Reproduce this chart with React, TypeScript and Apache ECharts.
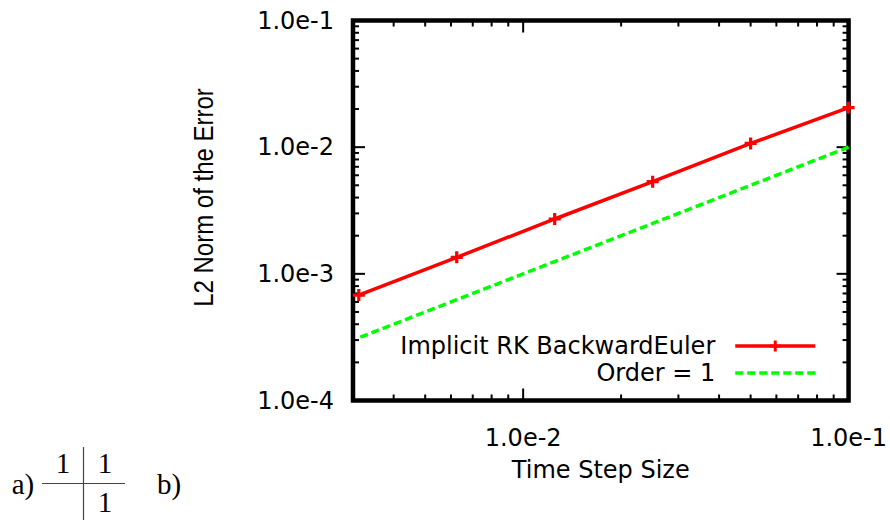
import React, { useEffect, useRef } from "react";
import * as echarts from "echarts";

// ---- data ----
const stepSizes = [0.1, 0.05, 0.025, 0.0125, 0.00625, 0.003125];
const errorBackwardEuler = [0.0205, 0.0107, 0.00534, 0.00271, 0.00135, 0.00068];
const orderOneRef = [0.01, 0.005, 0.0025, 0.00125, 0.000625, 0.0003125];

const seriesNames = ["Implicit RK BackwardEuler", "Order = 1"];
const xAxisTitle = "Time Step Size";
const yAxisTitle = "L2 Norm of the Error";

const X_MIN = 0.003;
const X_MAX = 0.1;
const Y_MIN = 1e-4;
const Y_MAX = 1e-1;

const xMajorTicks = [0.01, 0.1];
const xMinorTicks = [0.004, 0.005, 0.006, 0.007, 0.008, 0.009, 0.02, 0.03, 0.04, 0.05, 0.06, 0.07, 0.08, 0.09];
const yMajorTicks = [1e-4, 1e-3, 1e-2, 1e-1];
const yMinorTicks = [
  2e-4, 3e-4, 4e-4, 5e-4, 6e-4, 7e-4, 8e-4, 9e-4,
  2e-3, 3e-3, 4e-3, 5e-3, 6e-3, 7e-3, 8e-3, 9e-3,
  2e-2, 3e-2, 4e-2, 5e-2, 6e-2, 7e-2, 8e-2, 9e-2,
];

const SANS = "'DejaVu Sans'";
const SERIF = "'Liberation Serif'";
const PLUS = "path://M-1.6,-6 L1.6,-6 L1.6,-1.6 L6,-1.6 L6,1.6 L1.6,1.6 L1.6,6 L-1.6,6 L-1.6,1.6 L-6,1.6 L-6,-1.6 L-1.6,-1.6 Z";

const MAJOR_LEN = 12;
const MINOR_LEN = 6;

export default function App() {
  const ref = useRef<HTMLDivElement>(null);

  useEffect(() => {
    if (!ref.current) return;
    const chart = echarts.init(ref.current, null, { renderer: "svg" });

    const xTickData = [
      ...xMajorTicks.map((v) => [v, Y_MIN, MAJOR_LEN]),
      ...xMinorTicks.map((v) => [v, Y_MIN, MINOR_LEN]),
    ];
    const yTickData = [
      ...yMajorTicks.map((v) => [X_MIN, v, MAJOR_LEN]),
      ...yMinorTicks.map((v) => [X_MIN, v, MINOR_LEN]),
    ];
    const tickStyle = { stroke: "#000", lineWidth: 2 };

    const fmt = (v: number) => Number(v).toExponential(1);
    const serifText = (text: string, x: number, y: number) => ({
      type: "text",
      x,
      y,
      style: {
        text,
        fontFamily: SERIF,
        fontSize: 29,
        fill: "#000",
        align: "center",
        verticalAlign: "middle",
        textAlign: "center",
        textVerticalAlign: "middle",
      },
    });

    chart.setOption({
      animation: false,
      backgroundColor: "#fff",
      grid: {
        left: 353,
        top: 20.5,
        right: 40,
        bottom: 121.5,
        show: false,
      },
      xAxis: {
        type: "log",
        logBase: 10,
        min: X_MIN,
        max: X_MAX,
        name: xAxisTitle,
        nameLocation: "middle",
        nameGap: 57,
        nameTextStyle: { fontFamily: SANS, fontSize: 24, color: "#000" },
        axisLine: { show: false },
        axisTick: { show: false },
        splitLine: { show: false },
        minorTick: { show: false },
        axisLabel: {
          showMinLabel: false,
          margin: 25,
          fontFamily: SANS,
          fontSize: 24,
          color: "#000",
          formatter: fmt,
        },
      },
      yAxis: {
        type: "log",
        logBase: 10,
        min: Y_MIN,
        max: Y_MAX,
        axisLine: { show: false },
        axisTick: { show: false },
        splitLine: { show: false },
        axisLabel: {
          margin: 19,
          fontFamily: SANS,
          fontSize: 24,
          color: "#000",
          formatter: fmt,
        },
      },
      legend: {
        data: [
          { name: seriesNames[0] },
          { name: seriesNames[1], itemStyle: { opacity: 0 } },
        ],
        orient: "vertical",
        align: "right",
        right: 73,
        top: 334,
        padding: 0,
        itemWidth: 80,
        itemHeight: 14,
        itemGap: 3,
        selectedMode: false,
        lineStyle: { width: 3.5 },
        textStyle: {
          fontFamily: SANS,
          fontSize: 24,
          color: "#000",
          padding: [0, 15, 0, 0],
        },
      },
      graphic: [
        {
          type: "text",
          x: 203,
          y: 197.5,
          rotation: Math.PI / 2,
          scaleY: 1.14,
          style: {
            text: yAxisTitle,
            fontFamily: "'Liberation Sans'",
            fontSize: 24,
            fill: "#000",
            align: "center",
            verticalAlign: "middle",
            textAlign: "center",
            textVerticalAlign: "middle",
          },
        },
        // Butcher tableau: a) 1 | 1 / | 1  b)
        serifText("a)", 23, 483.5),
        serifText("1", 63, 463),
        serifText("1", 105, 463),
        serifText("1", 105, 501.5),
        serifText("b)", 169, 483.5),
        { type: "line", shape: { x1: 83.5, y1: 447, x2: 83.5, y2: 520 }, style: { stroke: "#444", lineWidth: 1.2 } },
        { type: "line", shape: { x1: 42, y1: 483.5, x2: 125, y2: 483.5 }, style: { stroke: "#444", lineWidth: 1.2 } },
      ],
      series: [
        {
          type: "custom",
          silent: true,
          z: 1,
          encode: { x: 0, y: 1 },
          data: [[X_MIN, Y_MIN]],
          renderItem: (_p: any, api: any) => {
            const a = api.coord([X_MIN, Y_MIN]);
            const b = api.coord([X_MAX, Y_MAX]);
            return {
              type: "rect",
              shape: { x: a[0], y: b[1], width: b[0] - a[0], height: a[1] - b[1] },
              style: { fill: "none", stroke: "#000", lineWidth: 4.5 },
            };
          },
        },
        {
          name: seriesNames[0],
          type: "line",
          data: stepSizes.map((x, i) => [x, errorBackwardEuler[i]]),
          symbol: PLUS,
          symbolSize: 12,
          showSymbol: true,
          lineStyle: { color: "#ff0000", width: 3.5 },
          itemStyle: { color: "#ff0000" },
          z: 3,
        },
        {
          name: seriesNames[1],
          type: "line",
          data: stepSizes.map((x, i) => [x, orderOneRef[i]]),
          symbol: "none",
          lineStyle: { color: "#00ff00", width: 3.5, type: [8, 4] },
          itemStyle: { color: "rgba(0,0,0,0)" },
          z: 3,
        },
        {
          type: "custom",
          silent: true,
          z: 2,
          encode: { x: 0, y: 1 },
          data: xTickData,
          renderItem: (_p: any, api: any) => {
            const v = api.value(0);
            const len = api.value(2);
            const b = api.coord([v, Y_MIN]);
            const t = api.coord([v, Y_MAX]);
            return {
              type: "group",
              children: [
                { type: "line", shape: { x1: b[0], y1: b[1], x2: b[0], y2: b[1] - len }, style: tickStyle },
                { type: "line", shape: { x1: t[0], y1: t[1], x2: t[0], y2: t[1] + len }, style: tickStyle },
              ],
            };
          },
        },
        {
          type: "custom",
          silent: true,
          z: 2,
          encode: { x: 0, y: 1 },
          data: yTickData,
          renderItem: (_p: any, api: any) => {
            const v = api.value(1);
            const len = api.value(2);
            const l = api.coord([X_MIN, v]);
            const r = api.coord([X_MAX, v]);
            return {
              type: "group",
              children: [
                { type: "line", shape: { x1: l[0], y1: l[1], x2: l[0] + len, y2: l[1] }, style: tickStyle },
                { type: "line", shape: { x1: r[0], y1: r[1], x2: r[0] - len, y2: r[1] }, style: tickStyle },
              ],
            };
          },
        },
      ],
    });

    return () => chart.dispose();
  }, []);

  return (
    <div
      ref={ref}
      style={{ position: "fixed", left: 0, top: 0, width: 890, height: 522 }}
    />
  );
}
